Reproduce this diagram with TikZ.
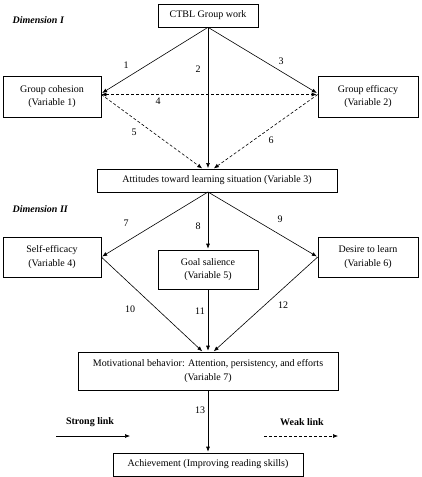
\documentclass[tikz,border=0pt]{standalone}
\usepackage{fontspec}
\setmainfont{Liberation Serif}
\usetikzlibrary{arrows.meta, positioning}

\begin{document}
\begin{tikzpicture}[>={Latex[length=5pt,width=4pt]}, shorten >=1pt, node distance=1cm, on grid,
		box/.style={rectangle, draw, line width=0.6pt, align=center, inner sep=0pt, font=\fontsize{10}{13.5}\selectfont},
		link/.style={->, line width=0.6pt},
		weak/.style={->, line width=0.6pt, dash pattern=on 3pt off 2pt},
		num/.style={font=\fontsize{10}{12}\selectfont},
		dim/.style={font=\fontsize{10}{12}\selectfont\bfseries\itshape, anchor=west}]

		\useasboundingbox (0,0) rectangle (422pt,-477pt);

		\node[box, minimum width=100pt, minimum height=23pt] (ctbl) at (208pt,-15.5pt) 				{CTBL Group work};
		\node[box, minimum width=98pt, minimum height=41pt] (cohes) 	[below left=81pt and 156pt of ctbl] 		{Group cohesion\\(Variable 1)};
		\node[box, minimum width=100pt, minimum height=41pt] (effic) 	[below right=81pt and 160pt of ctbl] 	{Group efficacy\\(Variable 2)};
		\node[box, minimum width=240pt, minimum height=23pt] (att) 	[below right=165pt and 9pt of ctbl] 		{Attitudes toward learning situation (Variable 3)};

		\node[box, minimum width=98pt, minimum height=40pt] (selfe) 	[below=160.5pt of cohes] 			{Self-efficacy\\(Variable 4)};
		\node[box, minimum width=100pt, minimum height=40pt] (desire) 	[below=160.5pt of effic] 			{Desire to learn\\(Variable 6)};
		\node[box, minimum width=100pt, minimum height=39pt] (goal) 	[below=254pt of ctbl] 				{Goal salience\\(Variable 5)};
		\node[box, minimum width=260pt, minimum height=38pt] (motiv) 	[below=101.5pt of goal] 			{Motivational behavior: Attention, persistency, and efforts\\(Variable 7)};
		\node[box, minimum width=190pt, minimum height=23pt] (achv) 	[below=93.5pt of motiv] 			{Achievement (Improving reading skills)};

		\node[dim] (dimA) at (9pt,-20pt) 		{Dimension I};
		\node[dim] (dimB) at (9pt,-209pt) 		{Dimension II};

		\node[num, font=\fontsize{10}{12}\selectfont\bfseries] (strong) at (90pt,-422pt) 	{Strong link};
		\node[num, font=\fontsize{10}{12}\selectfont\bfseries] (weaktxt) at (302pt,-422pt) 	{Weak link};
		\coordinate (s0) at (56pt,-436pt);
		\coordinate (s1) at (131pt,-436pt);
		\coordinate (w0) at (264pt,-436pt);
		\coordinate (w1) at (339pt,-436pt);

		\coordinate (attA) at (203pt,-169pt);
		\coordinate (attB) at (208pt,-169pt);
		\coordinate (attC) at (213pt,-169pt);
		\coordinate (attD) at (208pt,-192pt);
		\coordinate (motA) at (203pt,-352pt);
		\coordinate (motC) at (213pt,-352pt);

		% Dimension I
    \draw[link] (ctbl.south) -- ([yshift=3pt]cohes.east);
    \draw[link] (ctbl.south) -- (attB);
    \draw[link] (ctbl.south) -- ([yshift=3pt]effic.west);
    \draw[weak, <->] ([yshift=2pt]cohes.east) -- ([yshift=2pt]effic.west);
    \draw[weak] ([yshift=2pt]cohes.east) -- (attA);
    \draw[weak] ([yshift=2pt]effic.west) -- (attC);

		% Dimension II
    \draw[link] (attD) -- (selfe.east);
    \draw[link] (attD) -- (goal.north);
    \draw[link] (attD) -- (desire.west);
    \draw[link] (selfe.east) -- (motA);
    \draw[link] (goal.south) -- (motiv.north);
    \draw[link] (desire.west) -- (motC);
    \draw[link] (motiv.south) -- (achv.north);

    \draw[link] (s0) -- (s1);
    \draw[weak] (w0) -- (w1);

		\node[num] (n1) at (126pt,-65pt) 	{1};
		\node[num] (n2) at (198pt,-69pt) 	{2};
		\node[num] (n3) at (281pt,-61pt) 	{3};
		\node[num] (n4) at (158pt,-101pt) 	{4};
		\node[num] (n5) at (134pt,-132pt) 	{5};
		\node[num] (n6) at (271pt,-140pt) 	{6};
		\node[num] (n7) at (126pt,-223pt) 	{7};
		\node[num] (n8) at (198pt,-226pt) 	{8};
		\node[num] (n9) at (280pt,-219pt) 	{9};
		\node[num] (n10) at (130pt,-309pt) 	{10};
		\node[num] (n11) at (200pt,-311pt) 	{11};
		\node[num] (n12) at (283pt,-305pt) 	{12};
		\node[num] (n13) at (200pt,-410pt) 	{13};

	\end{tikzpicture}
\end{document}
